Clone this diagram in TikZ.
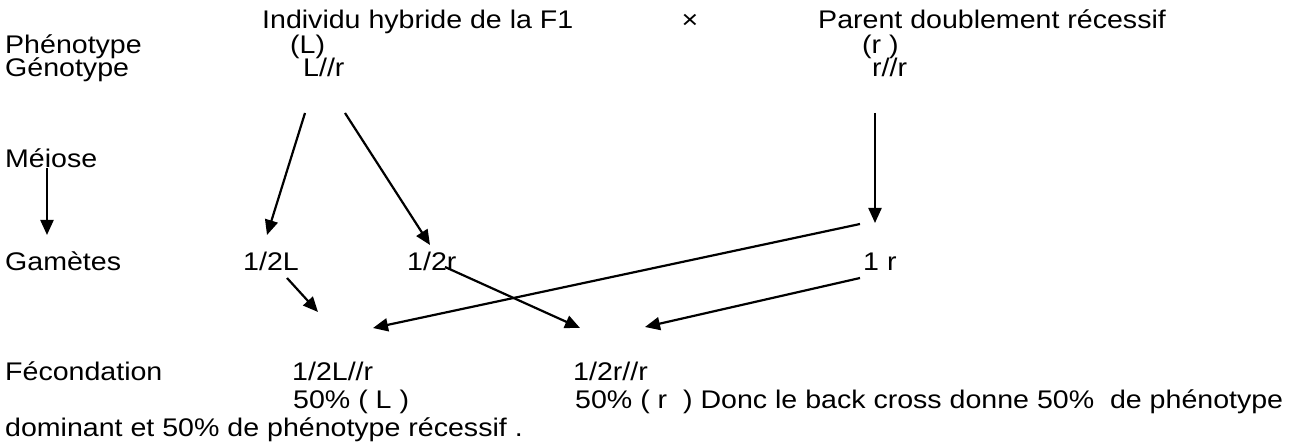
\documentclass[tikz,border=0pt]{standalone}
\usepackage{fontspec}
\setmainfont{Liberation Sans}[FakeStretch=1.12]
\usetikzlibrary{arrows.meta,calc}
\tikzset{
  txt/.style={anchor=base west, inner sep=0pt, font=\fontsize{25.5}{27}\selectfont},
  arr/.style={line width=2.2pt, -{Triangle[length=15pt,width=13pt]}}
}
\begin{document}
\begin{tikzpicture}[x=1pt,y=-1pt]
\useasboundingbox (0,0) rectangle (1312,446);
% header line
\node[txt] (hdrA) at (262,29) {Individu hybride de la F1};
\node[anchor=base, inner sep=0pt, font=\fontsize{25.5}{27}\selectfont] (cross) at (690,29) {×};
\node[txt] (hdrB) at (818,29) {Parent doublement récessif};
% row labels
\node[txt] (lPheno) at (5,54) {Phénotype};
\node[txt] (lGeno) at (5,77) {Génotype};
\node[txt] (lMeio) at (5,168) {Méiose};
\node[txt] (lGam) at (5,271) {Gamètes};
\node[txt] (lFec) at (5,380) {Fécondation};
% parents
\node[txt] (phL) at (290,54) {(L)};
\node[txt] (phR) at (862,54) {(r )};
\node[txt] (gL) at (303,77) {L//r};
\node[txt] (gR) at (872,77) {r//r};
% gametes
\node[txt] (gam1) at (243,271) {1/2L};
\node[txt] (gam2) at (407,271) {1/2r};
\node[txt] (gam3) at (863,271) {1 r};
% offspring
\node[txt] (f1) at (292,380) {1/2L//r};
\node[txt] (f2) at (573,380) {1/2r//r};
\node[txt] (p1) at (293,408) {50\% ( L )};
\node[txt] (p2) at (575,408) {50\% ( r\ \ ) Donc le back cross donne 50\%\ \ de phénotype};
\node[txt] (dom) at (5,436) {dominant et 50\% de phénotype récessif .};
% meiosis
\draw[arr] ($(gL.base west)+(2,36)$) -- ($(gam1.base west)+(24,-36)$);
\draw[arr] ($(gL.base west)+(42,36)$) -- ($(gam2.base west)+(23,-26)$);
\draw[arr] ($(gR.base west)+(3,36)$) -- ($(gam3.base west)+(12,-48)$);
\draw[arr] ($(lMeio.base west)+(42,0)$) -- ($(lGam.base west)+(42,-36)$);
% fertilisation
\draw[arr] ($(gam1.base west)+(44,7)$) -- ($(f1.base west)+(26,-68)$);
\draw[arr] ($(gam3.base west)+(-3,-47)$) -- ($(f1.base west)+(81,-52)$);
\draw[arr] ($(gam2.base west)+(38,-4)$) -- ($(f2.base west)+(7,-52)$);
\draw[arr] ($(gam3.base west)+(-3,7)$) -- ($(f2.base west)+(72,-53)$);
\end{tikzpicture}
\end{document}
